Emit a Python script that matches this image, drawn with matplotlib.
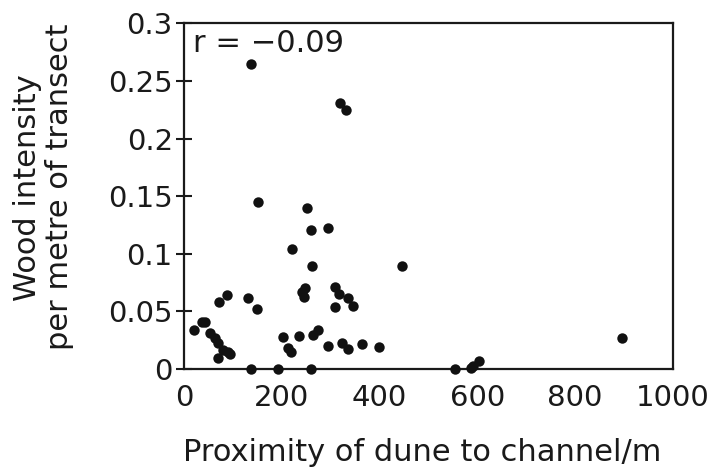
import matplotlib
matplotlib.use("Agg")
import matplotlib.pyplot as plt

distance_m = [137, 320, 331, 151, 252, 260, 294, 222, 261, 447,
              310, 248, 241, 246, 317, 336, 346, 310, 89, 72,
              130, 150, 20, 36, 42, 53, 63, 70, 80, 91,
              94, 70, 202, 213, 219, 236, 265, 274, 295, 323,
              335, 364, 400, 896, 137, 192, 260, 555, 587, 604, 592]
wood_intensity = [0.2647, 0.2311, 0.2248, 0.1446, 0.1394, 0.1206, 0.1227, 0.1039, 0.0894, 0.0894,
                  0.0715, 0.0700, 0.0671, 0.0628, 0.0648, 0.0613, 0.0550, 0.0541, 0.0642, 0.0579,
                  0.0613, 0.0521, 0.0338, 0.0411, 0.0405, 0.0310, 0.0266, 0.0223, 0.0165, 0.0150,
                  0.0127, 0.0098, 0.0281, 0.0185, 0.0150, 0.0286, 0.0295, 0.0338, 0.0203, 0.0226,
                  0.0171, 0.0214, 0.0188, 0.0266, 0.0, 0.0, 0.0, 0.0, 0.0006, 0.0069, 0.003]

x_ticks = [0, 200, 400, 600, 800, 1000]
y_ticks = [0, 0.05, 0.1, 0.15, 0.2, 0.25, 0.3]
y_tick_labels = ["0", "0.05", "0.1", "0.15", "0.2", "0.25", "0.3"]
annotation = "r = \u22120.09"

FS = 21
LFS = 22
INK = '#1a1a1a'
plt.rcParams['font.family'] = ['DejaVu Sans']
fig = plt.figure(figsize=(7.12, 4.71), dpi=100)
ax = fig.add_axes([0.2584, 0.2166, 0.6864, 0.7339])

ax.plot(distance_m, wood_intensity, 'o', color='#111111', markersize=7.5,
        markeredgewidth=0, clip_on=False, zorder=3)

ax.set_xlim(0, 1000)
ax.set_ylim(0, 0.3)
ax.set_xticks(x_ticks)
ax.set_xticklabels([str(v) for v in x_ticks])
ax.set_yticks(y_ticks)
ax.set_yticklabels(y_tick_labels)
ax.tick_params(axis='y', direction='inout', length=12, width=1.5, labelsize=FS, pad=2,
               color=INK, labelcolor=INK)
ax.tick_params(axis='x', length=0, labelsize=FS, pad=11, labelcolor=INK)
for s in ax.spines.values():
    s.set_linewidth(1.6)
    s.set_color(INK)

ax.set_xlabel("Proximity of dune to channel/m", fontsize=LFS, color=INK)
ax.xaxis.label.set_va('baseline')
ax.xaxis.set_label_coords(0.488, -0.266)
ax.set_ylabel("Wood intensity\nper metre of transect", fontsize=LFS, color=INK, linespacing=1.12)
ax.yaxis.set_label_coords(-0.225, 0.526)
ax.text(0.018, 0.916, annotation, transform=ax.transAxes, fontsize=LFS,
        va='baseline', ha='left', color=INK)

fig.savefig("out.png", dpi=100)
